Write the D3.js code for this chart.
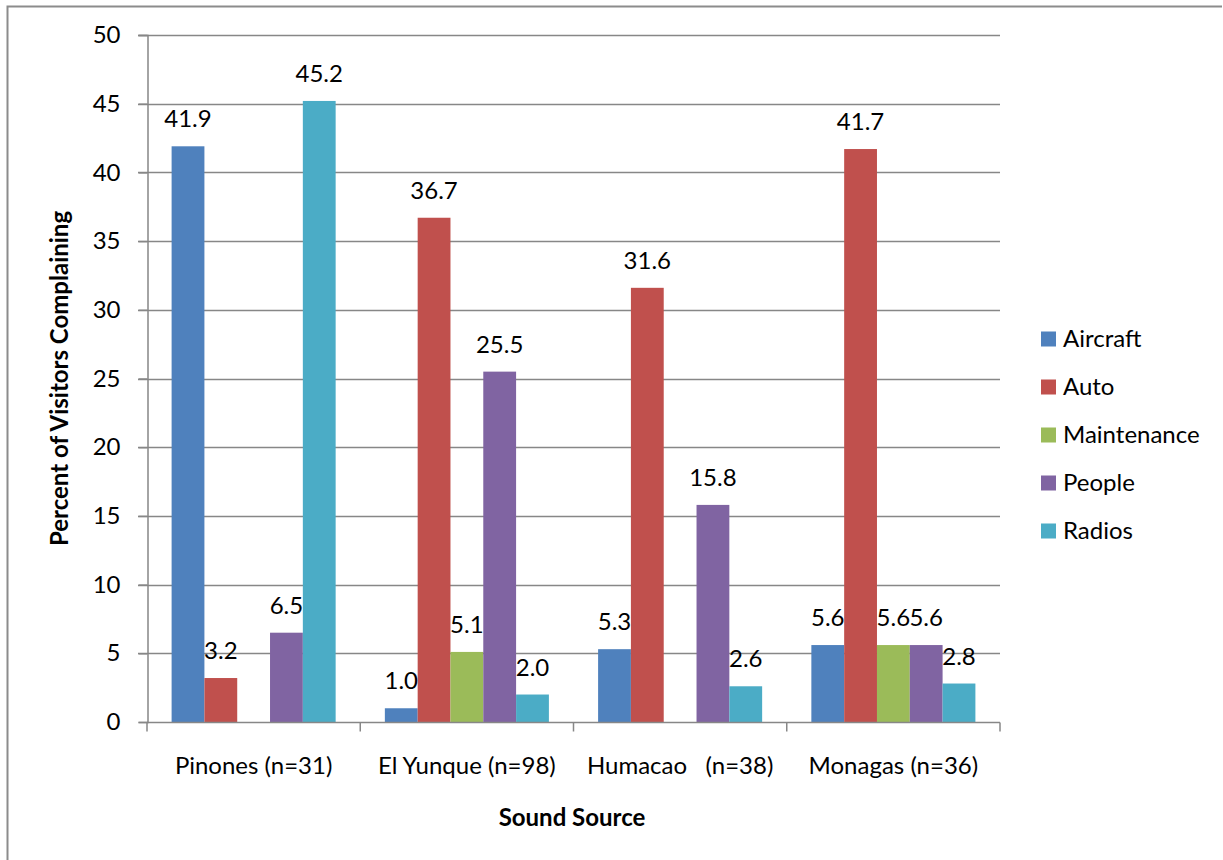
<!DOCTYPE html>
<html>
<head>
<meta charset="utf-8">
<script src="https://cdn.jsdelivr.net/npm/d3@7"></script>
<style>
  html, body { margin: 0; padding: 0; background: #fff; }
  svg { display: block; font-family: Lato, "Open Sans", sans-serif; }
</style>
</head>
<body>
<svg id="chart" width="1223" height="860"></svg>
<script>
// Sites surveyed and the sound sources visitors complained about (percent)
const sites = ["Pinones (n=31)", "El Yunque (n=98)", "Humacao   (n=38)", "Monagas (n=36)"];
const sources = ["Aircraft", "Auto", "Maintenance", "People", "Radios"];
const aircraft    = [41.9, 1.0, 5.3, 5.6];
const auto        = [3.2, 36.7, 31.6, 41.7];
const maintenance = [null, 5.1, null, 5.6];
const people      = [6.5, 25.5, 15.8, 5.6];
const radios      = [45.2, 2.0, 2.6, 2.8];
const yTicks = [0, 5, 10, 15, 20, 25, 30, 35, 40, 45, 50];
const colors = ["#4F81BD", "#C0504D", "#9BBB59", "#8064A2", "#4BACC6"];

const seriesValues = [aircraft, auto, maintenance, people, radios];

const FS = 24;
const svg = d3.select("#chart");
const plot = { left: 147, right: 1000, top: 35, bottom: 722 };
const gridColor = "#878787";

// Outer frame (top and left edges visible)
svg.append("path")
  .attr("d", "M7.5,860 L7.5,6.5 L1222,6.5")
  .attr("fill", "none").attr("stroke", "#8c8c8c").attr("stroke-width", 2);

const x0 = d3.scaleBand().domain(sites).range([plot.left, plot.right]).padding(0);
// 150% gap between groups: bar width = group / (5 + 1.5)
const barW = x0.bandwidth() / (sources.length + 1.5);
const x1 = d3.scaleBand().domain(sources)
  .range([barW * 0.75, barW * 0.75 + barW * sources.length]).padding(0);

const y = d3.scaleLinear().domain([0, 50]).range([plot.bottom, plot.top]);

// Horizontal gridlines
svg.append("g")
  .selectAll("line").data(yTicks.filter(t => t > 0)).join("line")
  .attr("x1", plot.left - 9).attr("x2", plot.right)
  .attr("y1", d => Math.round(y(d)) + 0.5).attr("y2", d => Math.round(y(d)) + 0.5)
  .attr("stroke", gridColor).attr("stroke-width", 1.5);

// Y axis
const yAxis = d3.axisLeft(y).tickValues(yTicks).tickSize(9).tickPadding(18).tickFormat(d3.format("d"));
const yg = svg.append("g").attr("transform", `translate(${plot.left + 0.5},0)`).call(yAxis);
yg.select(".domain").attr("stroke", gridColor).attr("stroke-width", 1.5);
yg.selectAll(".tick line").attr("stroke", gridColor).attr("stroke-width", 1.5);
yg.selectAll(".tick text").attr("font-size", FS).attr("fill", "#000").attr("font-family", "Lato, sans-serif");

// Bars with value labels
const groups = svg.append("g").selectAll("g").data(sites).join("g")
  .attr("transform", d => `translate(${x0(d)},0)`);

groups.each(function(site, si) {
  const g = d3.select(this);
  const items = sources.map((s, k) => ({ s, k, v: seriesValues[k][si] })).filter(d => d.v != null);
  g.selectAll("rect").data(items).join("rect")
    .attr("x", d => x1(d.s))
    .attr("width", x1.bandwidth())
    .attr("y", d => y(d.v))
    .attr("height", d => y(0) - y(d.v))
    .attr("fill", d => colors[d.k]);
  g.selectAll("text").data(items).join("text")
    .attr("x", d => x1(d.s) + x1.bandwidth() / 2)
    .attr("y", d => y(d.v) - 19)
    .attr("text-anchor", "middle")
    .attr("font-size", FS)
    .attr("fill", "#000")
    .text(d => d3.format(".1f")(d.v));
});

// X axis
const xg = svg.append("g").attr("transform", `translate(0,${plot.bottom + 0.5})`);
xg.append("line").attr("x1", plot.left).attr("x2", plot.right)
  .attr("stroke", gridColor).attr("stroke-width", 1.5);
const xTickPos = sites.map(s => x0(s)).concat([plot.right]);
xg.selectAll("line.tk").data(xTickPos).join("line").attr("class", "tk")
  .attr("x1", d => d).attr("x2", d => d).attr("y1", 0).attr("y2", 9)
  .attr("stroke", gridColor).attr("stroke-width", 1.5);
xg.selectAll("text").data(sites).join("text")
  .attr("x", d => x0(d) + x0.bandwidth() / 2)
  .attr("y", 51)
  .attr("text-anchor", "middle")
  .attr("font-size", FS)
  .attr("fill", "#000")
  .style("white-space", "pre")
  .attr("xml:space", "preserve")
  .text(d => d);

// Axis titles
svg.append("text")
  .attr("x", 572).attr("y", 826)
  .attr("text-anchor", "middle").attr("font-size", FS).attr("font-weight", "bold")
  .text("Sound Source");
svg.append("text")
  .attr("transform", `translate(68,${(plot.top + plot.bottom) / 2}) rotate(-90)`)
  .attr("text-anchor", "middle").attr("font-size", FS).attr("font-weight", "bold")
  .text("Percent of Visitors Complaining");

// Legend
const legend = svg.append("g").selectAll("g").data(sources).join("g")
  .attr("transform", (d, i) => `translate(1041,${339 + i * 48})`);
legend.append("rect").attr("x", 0).attr("y", -7.5).attr("width", 15).attr("height", 15)
  .attr("fill", (d, i) => colors[i]);
legend.append("text").attr("x", 22).attr("y", 8)
  .attr("font-size", FS).attr("fill", "#000").text(d => d);
</script>
</body>
</html>
